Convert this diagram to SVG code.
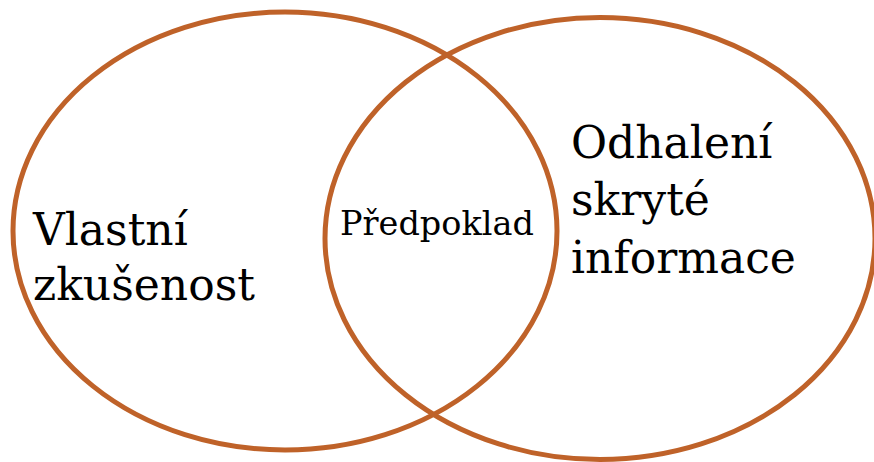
<svg xmlns="http://www.w3.org/2000/svg" width="874" height="462" viewBox="0 0 874 462">
<style>
.c{fill:none;stroke:#BF6229;stroke-width:5}
.t{font-family:"DejaVu Serif","Liberation Serif",serif;fill:#000}
.big{font-size:44px}
.small{font-size:33.5px}
</style>
<rect width="874" height="462" fill="#fff"/>
<g id="left">
<ellipse class="c" cx="285" cy="231" rx="272" ry="219"/>
<text class="t big" x="33" y="245">Vlastní</text>
<text class="t big" x="33" y="300">zkušenost</text>
</g>
<g id="right">
<ellipse class="c" cx="600" cy="238.5" rx="275" ry="221"/>
<text class="t big" x="571" y="158">Odhalení</text>
<text class="t big" x="571" y="215">skryté</text>
<text class="t big" x="571" y="273">informace</text>
</g>
<g id="overlap">
<text class="t small" x="340" y="235">Předpoklad</text>
</g>
<g id="connectors"/>
</svg>
